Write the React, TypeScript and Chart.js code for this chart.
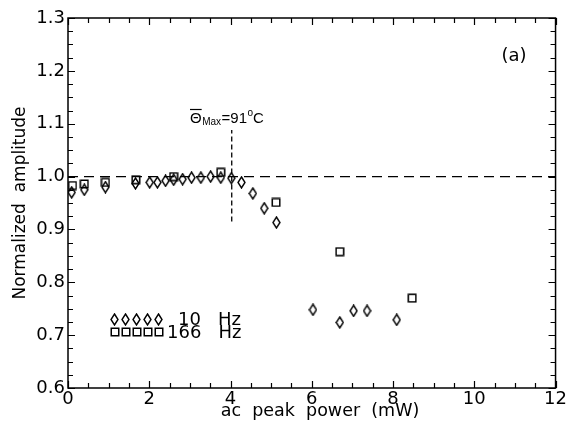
import React, { useEffect, useRef } from 'react';
import { Chart, registerables } from 'chart.js';

Chart.register(...registerables);

// ---- data ----
const power10Hz = [0.09, 0.40, 0.92, 1.66, 2.01, 2.20, 2.40, 2.60, 2.82, 3.04, 3.27, 3.51, 3.76, 4.02, 4.27, 4.55, 4.83, 5.13, 6.03, 6.69, 7.03, 7.36, 8.09];
const amp10Hz = [0.970, 0.975, 0.980, 0.987, 0.989, 0.989, 0.992, 0.994, 0.995, 0.998, 0.998, 1.000, 0.998, 0.997, 0.989, 0.968, 0.940, 0.913, 0.748, 0.724, 0.746, 0.746, 0.729];
const power166Hz = [0.11, 0.40, 0.92, 1.67, 2.60, 3.76, 5.12, 6.69, 8.47];
const amp166Hz = [0.983, 0.986, 0.989, 0.994, 1.000, 1.008, 0.951, 0.858, 0.770];

const xRange = [0, 12];
const yRange = [0.6, 1.3];
const xLabelStep = 2;
const yLabelStep = 0.1;
const xMinorStep = 0.5;
const yMinorStep = 0.025;

const refLevel = 1.0;
const thetaMaxPower = 4.03;
const thetaLineSpan = [0.915, 1.088];

const legendLabels = ['10   Hz', '166   Hz'];
const xTitle = 'ac  peak  power  (mW)';
const yTitle = 'Normalized  amplitude';
const panelLabel = '(a)';

const FONT = '"DejaVu Sans", "Liberation Sans", Arial, sans-serif';
const FONT2 = '"Liberation Sans", Arial, sans-serif';

function makeDiamond(): HTMLCanvasElement {
  const c = document.createElement('canvas');
  c.width = 9;
  c.height = 13;
  const g = c.getContext('2d')!;
  g.strokeStyle = '#000';
  g.lineWidth = 1.4;
  g.beginPath();
  g.moveTo(4.5, 1);
  g.lineTo(8, 6.5);
  g.lineTo(4.5, 12);
  g.lineTo(1, 6.5);
  g.closePath();
  g.stroke();
  return c;
}

function makeSquare(): HTMLCanvasElement {
  const c = document.createElement('canvas');
  c.width = 10;
  c.height = 10;
  const g = c.getContext('2d')!;
  g.strokeStyle = '#000';
  g.lineWidth = 1.5;
  g.strokeRect(1.25, 1.25, 7.5, 7.5);
  return c;
}

export default function App() {
  const ref = useRef<HTMLCanvasElement>(null);

  useEffect(() => {
    const canvas = ref.current;
    if (!canvas) return;
    const diamond = makeDiamond();
    const square = makeSquare();

    const framePlugin = {
      id: 'frameTicks',
      afterDatasetsDraw(chart: any) {
        const ctx = chart.ctx;
        const { left, right, top, bottom } = chart.chartArea;
        const xs = chart.scales.x;
        const ys = chart.scales.y;
        ctx.save();
        ctx.strokeStyle = '#000';
        ctx.lineWidth = 1.5;
        ctx.strokeRect(left, top, right - left, bottom - top);
        ctx.lineWidth = 1.2;
        ctx.beginPath();
        const nx = Math.round((xRange[1] - xRange[0]) / xMinorStep);
        for (let i = 0; i <= nx; i++) {
          const v = xRange[0] + i * xMinorStep;
          const px = Math.round(xs.getPixelForValue(v)) + 0.5;
          const major = Math.abs(v / xLabelStep - Math.round(v / xLabelStep)) < 1e-6;
          const len = major ? 7 : 5;
          ctx.moveTo(px, bottom);
          ctx.lineTo(px, bottom - len);
          ctx.moveTo(px, top);
          ctx.lineTo(px, top + len);
        }
        const ny = Math.round((yRange[1] - yRange[0]) / yMinorStep);
        for (let i = 0; i <= ny; i++) {
          const v = yRange[0] + i * yMinorStep;
          const py = Math.round(ys.getPixelForValue(v)) + 0.5;
          const major = i % 4 === 0;
          const len = major ? 7 : 5;
          ctx.moveTo(left, py);
          ctx.lineTo(left + len, py);
          ctx.moveTo(right, py);
          ctx.lineTo(right - len, py);
        }
        ctx.stroke();
        ctx.restore();
      },
      afterDraw(chart: any) {
        const ctx = chart.ctx;
        const xs = chart.scales.x;
        const ys = chart.scales.y;
        ctx.save();
        ctx.fillStyle = '#000';
        ctx.strokeStyle = '#000';

        // x axis title
        ctx.font = `17.5px ${FONT}`;
        ctx.textAlign = 'center';
        ctx.textBaseline = 'alphabetic';
        ctx.fillText(xTitle, 320, 416);

        // panel label
        ctx.font = `18px ${FONT}`;
        ctx.textAlign = 'center';
        ctx.textBaseline = 'middle';
        ctx.fillText(panelLabel, xs.getPixelForValue(10.98), ys.getPixelForValue(1.228));

        // Theta_Max annotation
        ctx.textAlign = 'left';
        ctx.textBaseline = 'alphabetic';
        let x = 190;
        const base = 122.5;
        ctx.font = `15px ${FONT2}`;
        const thW = ctx.measureText('Θ').width;
        ctx.fillText('Θ', x, base);
        ctx.lineWidth = 1.2;
        ctx.beginPath();
        ctx.moveTo(x, base - 13);
        ctx.lineTo(x + thW, base - 13);
        ctx.stroke();
        x += thW + 0.5;
        ctx.font = `10px ${FONT2}`;
        ctx.fillText('Max', x, base + 2);
        x += ctx.measureText('Max').width + 0.5;
        ctx.font = `15px ${FONT2}`;
        ctx.fillText('=91', x, base);
        x += ctx.measureText('=91').width + 0.5;
        ctx.font = `10px ${FONT2}`;
        ctx.fillText('o', x, base - 6.5);
        x += ctx.measureText('o').width;
        ctx.font = `15px ${FONT2}`;
        ctx.fillText('C', x, base);

        // legend
        const rows = [
          { img: diamond, y: 319, label: legendLabels[0], tx: 178 },
          { img: square, y: 332, label: legendLabels[1], tx: 167 },
        ];
        ctx.font = `18px ${FONT}`;
        ctx.textBaseline = 'middle';
        for (const r of rows) {
          for (let i = 0; i < 5; i++) {
            const cx = 114.5 + i * 11;
            ctx.drawImage(r.img, Math.round(cx - r.img.width / 2), Math.round(r.y - r.img.height / 2));
          }
          ctx.fillText(r.label, r.tx, r.y + 1);
        }
        ctx.restore();
      },
    };

    const chart = new Chart(canvas, {
      type: 'scatter',
      data: {
        datasets: [
          {
            type: 'line',
            data: [{ x: xRange[0], y: refLevel }, { x: xRange[1], y: refLevel }],
            borderColor: '#000',
            borderWidth: 1.3,
            borderDash: [10, 6],
            pointRadius: 0,
            fill: false,
          } as any,
          {
            type: 'line',
            data: [{ x: thetaMaxPower, y: thetaLineSpan[0] }, { x: thetaMaxPower, y: thetaLineSpan[1] }],
            borderColor: '#000',
            borderWidth: 1.3,
            borderDash: [5, 3],
            pointRadius: 0,
            fill: false,
          } as any,
          {
            label: '10 Hz',
            data: power10Hz.map((p, i) => ({ x: p, y: amp10Hz[i] })),
            pointStyle: diamond,
            pointRadius: 5,
          },
          {
            label: '166 Hz',
            data: power166Hz.map((p, i) => ({ x: p, y: amp166Hz[i] })),
            pointStyle: square,
            pointRadius: 5,
          },
        ],
      },
      options: {
        responsive: false,
        animation: false,
        devicePixelRatio: 1,
        layout: { padding: { left: 10, right: 10, top: 18, bottom: 0 } },
        plugins: { legend: { display: false }, tooltip: { enabled: false } },
        scales: {
          x: {
            type: 'linear',
            min: xRange[0],
            max: xRange[1],
            grid: { display: false, drawTicks: false },
            border: { display: false },
            ticks: { stepSize: xLabelStep, color: '#000', font: { family: FONT, size: 18 }, padding: 1, maxRotation: 0 },
            afterFit: (s: any) => { s.height = 37; },
          },
          y: {
            type: 'linear',
            min: yRange[0],
            max: yRange[1],
            grid: { display: false, drawTicks: false },
            border: { display: false },
            ticks: {
              stepSize: yLabelStep,
              color: '#000',
              font: { family: FONT, size: 18 },
              padding: 3,
              callback: (v: any) => Number(v).toFixed(1),
            },
            title: { display: true, text: yTitle, color: '#000', font: { family: FONT, size: 17 }, padding: 0 },
            afterFit: (s: any) => { s.width = 58; },
          },
        },
      },
      plugins: [framePlugin],
    });
    return () => chart.destroy();
  }, []);

  return (
    <div style={{ position: 'fixed', left: 0, top: 0, width: 568, height: 425, background: '#fff' }}>
      <canvas ref={ref} width={568} height={425} style={{ display: 'block' }} />
    </div>
  );
}
